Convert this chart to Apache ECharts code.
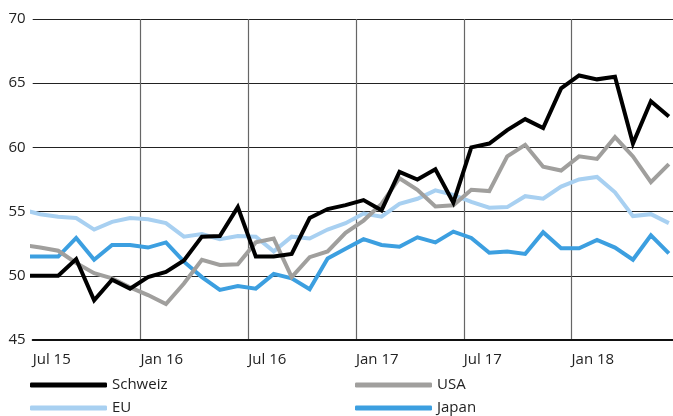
<!DOCTYPE html>
<html>
<head>
<meta charset="utf-8">
<script src="https://cdn.jsdelivr.net/npm/echarts@6/dist/echarts.min.js"></script>
<style>
  html, body { margin: 0; padding: 0; background: #ffffff; }
  #chart { width: 673px; height: 416px; }
</style>
</head>
<body>
<div id="chart"></div>
<script>
// Months (first entry lies just before the visible axis start)
const months = ['2015-06','2015-07','2015-08','2015-09','2015-10','2015-11','2015-12',
  '2016-01','2016-02','2016-03','2016-04','2016-05','2016-06','2016-07','2016-08','2016-09','2016-10','2016-11','2016-12',
  '2017-01','2017-02','2017-03','2017-04','2017-05','2017-06','2017-07','2017-08','2017-09','2017-10','2017-11','2017-12',
  '2018-01','2018-02','2018-03','2018-04','2018-05','2018-06'];

const schweiz = [50, 50, 50, 51.3, 48.1, 49.7, 49.0, 49.9, 50.3, 51.2, 53.05, 53.1, 55.35, 51.5, 51.5, 51.7,
  54.5, 55.2, 55.5, 55.9, 55.1, 58.1, 57.5, 58.3, 55.7, 60.0, 60.3, 61.35, 62.2, 61.5, 64.6, 65.6, 65.3, 65.5,
  60.3, 63.6, 62.4];
const usa = [52.4, 52.2, 51.95, 51.0, 50.2, 49.8, 49.1, 48.5, 47.8, 49.4, 51.25, 50.85, 50.9, 52.6, 52.9, 49.9,
  51.45, 51.9, 53.35, 54.3, 55.6, 57.6, 56.7, 55.4, 55.5, 56.7, 56.6, 59.3, 60.2, 58.5, 58.2, 59.3, 59.1, 60.8,
  59.3, 57.3, 58.7];
const eu = [55.15, 54.8, 54.6, 54.5, 53.6, 54.2, 54.5, 54.4, 54.1, 53.05, 53.25, 52.85, 53.1, 53.05, 51.9, 53.05,
  52.9, 53.6, 54.1, 54.85, 54.6, 55.6, 56.0, 56.65, 56.3, 55.75, 55.3, 55.35, 56.2, 56.0, 56.95, 57.5, 57.7, 56.5,
  54.65, 54.8, 54.1];
const japan = [51.5, 51.5, 51.5, 52.95, 51.25, 52.4, 52.4, 52.2, 52.6, 51.1, 49.9, 48.9, 49.2, 49.0, 50.15, 49.8,
  48.95, 51.35, 52.1, 52.85, 52.4, 52.27, 53.0, 52.6, 53.44, 52.95, 51.8, 51.9, 51.7, 53.4, 52.15, 52.15, 52.8, 52.2,
  51.25, 53.15, 51.75];

const tickLabels = ['Jul 15', 'Jan 16', 'Jul 16', 'Jan 17', 'Jul 17', 'Jan 18'];
const yTicks = [45, 50, 55, 60, 65, 70];

// month position on axis: months since Jul 2015, data plotted mid-month
function monthPos(m) {
  const [y, mo] = m.split('-').map(Number);
  return (y - 2015) * 12 + (mo - 7) + 0.42;
}
function pairs(vals) { return vals.map((v, i) => [monthPos(months[i]), v]); }

const FONT = 'Open Sans';
const TXT = '#222';

const chart = echarts.init(document.getElementById('chart'), null, { renderer: 'canvas' });

function legendItem(name, left, top) {
  return {
    data: [name], left: left, top: top, padding: 0,
    icon: 'roundRect', itemWidth: 77, itemHeight: 5, itemGap: 6,
    textStyle: { fontFamily: FONT, fontSize: 15, color: TXT, lineHeight: 18, padding: [0, 0, 0, 0] }
  };
}

chart.setOption({
  animation: false,
  backgroundColor: '#ffffff',
  grid: { left: 32.7, right: 0, top: 19, bottom: 76, containLabel: false },
  legend: [
    legendItem('Schweiz', 30, 376),
    legendItem('USA', 355, 376),
    legendItem('EU', 30, 399),
    legendItem('Japan', 355, 399)
  ],
  xAxis: {
    type: 'value', min: 0, max: 35.65, interval: 6,
    axisLine: { show: true, lineStyle: { color: '#111', width: 2 } },
    axisTick: { show: false },
    splitLine: { show: true, showMinLine: false, showMaxLine: false, lineStyle: { color: '#666', width: 1.2 } },
    axisLabel: {
      show: true, align: 'left', margin: 12, fontFamily: FONT, fontSize: 15, color: TXT,
      showMinLabel: true, showMaxLabel: false,
      formatter: function (v) {
        const idx = Math.round(v / 6);
        if (Math.abs(v - idx * 6) < 1e-6 && idx < tickLabels.length) return tickLabels[idx];
        return '';
      }
    }
  },
  yAxis: {
    type: 'value', min: yTicks[0], max: yTicks[yTicks.length - 1], interval: 5,
    axisLine: { show: false }, axisTick: { show: false },
    splitLine: { show: true, lineStyle: { color: '#222', width: 1.2 } },
    axisLabel: { margin: 7, fontFamily: FONT, fontSize: 15, color: TXT }
  },
  series: [
    { name: 'Japan', type: 'line', data: pairs(japan), symbol: 'none', z: 2,
      lineStyle: { color: '#3c9fe0', width: 4, join: 'miter' }, itemStyle: { color: '#3c9fe0' } },
    { name: 'EU', type: 'line', data: pairs(eu), symbol: 'none', z: 3,
      lineStyle: { color: '#a8d0f1', width: 4, join: 'miter' }, itemStyle: { color: '#a8d0f1' } },
    { name: 'USA', type: 'line', data: pairs(usa), symbol: 'none', z: 4,
      lineStyle: { color: '#a09f9d', width: 4, join: 'miter' }, itemStyle: { color: '#a09f9d' } },
    { name: 'Schweiz', type: 'line', data: pairs(schweiz), symbol: 'none', z: 5,
      lineStyle: { color: '#000000', width: 4, join: 'miter' }, itemStyle: { color: '#000000' } }
  ]
});
</script>
</body>
</html>
